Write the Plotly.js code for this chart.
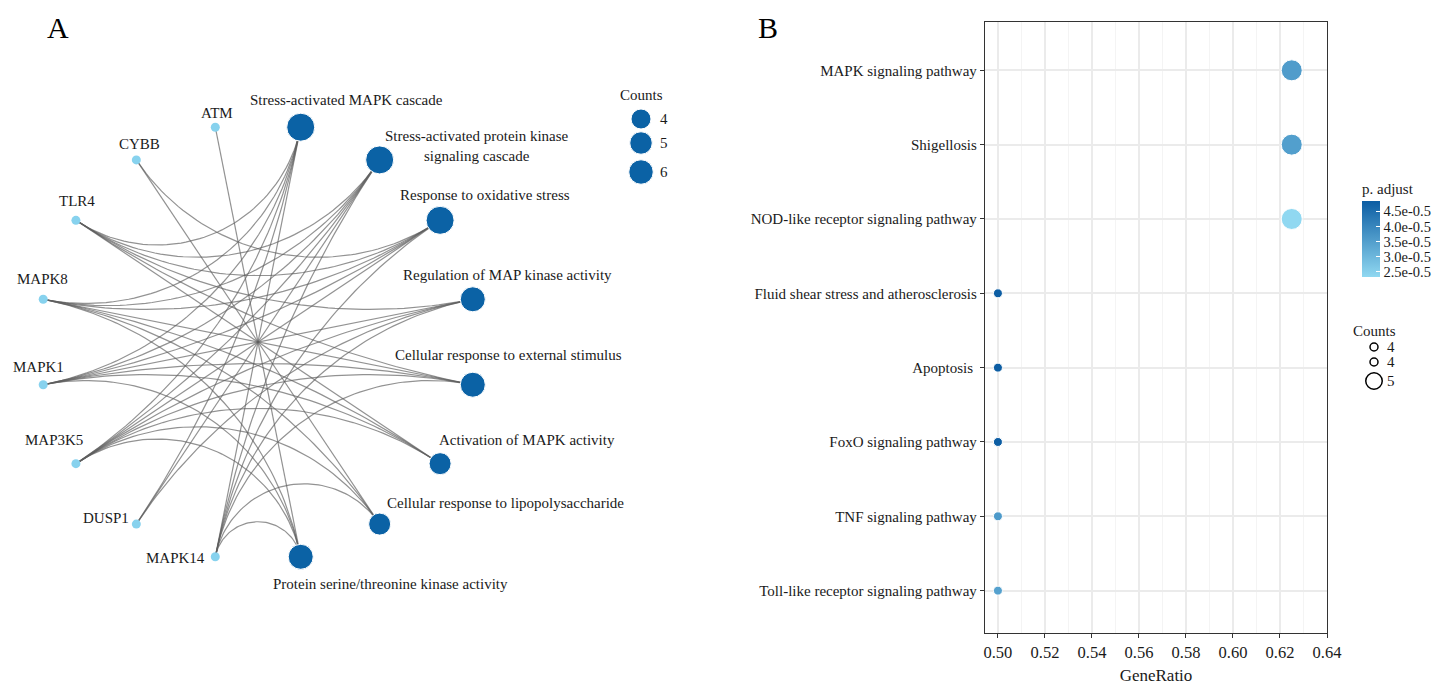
<!DOCTYPE html>
<html><head><meta charset="utf-8">
<script src="https://cdn.plot.ly/plotly-3.0.1.min.js"></script>
<style>html,body{margin:0;padding:0;background:#fff}#chart{width:1441px;height:685px}</style>
</head><body><div id="chart"></div>
<script>
// ================= DATA =================
// Panel A : gene–term network
const genes = ['ATM','CYBB','TLR4','MAPK8','MAPK1','MAP3K5','DUSP1','MAPK14'];
const terms = ['Stress-activated MAPK cascade',
  'Stress-activated protein kinase<br>signaling cascade',
  'Response to oxidative stress',
  'Regulation of MAP kinase activity',
  'Cellular response to external stimulus',
  'Activation of MAPK activity',
  'Cellular response to lipopolysaccharide',
  'Protein serine/threonine kinase activity'];
const termGenes = [
  ['TLR4','MAPK8','MAPK1','MAP3K5','DUSP1','MAPK14'],
  ['TLR4','MAPK8','MAPK1','MAP3K5','DUSP1','MAPK14'],
  ['CYBB','TLR4','MAPK8','MAPK1','MAP3K5','MAPK14'],
  ['TLR4','MAPK1','MAP3K5','DUSP1','MAPK14'],
  ['TLR4','MAPK8','MAPK1','MAP3K5','MAPK14'],
  ['TLR4','MAPK8','MAPK1','MAP3K5'],
  ['CYBB','MAPK8','MAP3K5','MAPK14'],
  ['ATM','MAPK8','MAPK1','MAP3K5','MAPK14']];
const countLegendA = [4,5,6];

// Panel B : KEGG dot plot
const pathways = ['MAPK signaling pathway','Shigellosis','NOD-like receptor signaling pathway',
  'Fluid shear stress and atherosclerosis','Apoptosis ','FoxO signaling pathway',
  'TNF signaling pathway','Toll-like receptor signaling pathway'];
const geneRatio = [0.625,0.625,0.625,0.5,0.5,0.5,0.5,0.5];
const pathCounts = [5,5,5,4,4,4,4,4];
const pAdjust = [3.55e-5,3.50e-5,2.33e-5,4.84e-5,4.84e-5,4.84e-5,3.60e-5,3.45e-5];
const pTickVals = [2.5e-5,3.0e-5,3.5e-5,4.0e-5,4.5e-5];
const pTickText = ['2.5e-0.5','3.0e-0.5','3.5e-0.5','4.0e-0.5','4.5e-0.5'];
const xTickVals = [0.50,0.52,0.54,0.56,0.58,0.60,0.62,0.64];
const xMinorVals = [0.51,0.53,0.55,0.57,0.59,0.61,0.63];
const countLegendB = ['4','4','5'];

// ================= STYLE / LAYOUT =================
const W = 1441, H = 685;
const FONT = '"Liberation Serif", "Times New Roman", serif';
const TXT = '#1a1a1a';
const termColor = '#0B62A5', geneColor = '#87D2EE';
const R = 219, CX = 258, CY = 342;         // network circle in pixels
const netRight = 700;
// label offsets in px (dx right, dy down)
const termLabelOff = [[46,-27],[97,-14],[45,-25],[35,-24],[36,-30],[87,-24],[126,-21],[90,27]];
const geneLabelOff = [[2,-14],[3,-16],[1,-19],[-1,-20],[-5,-18],[-22,-24],[-30,-6],[-40,1]];

const deg = Math.PI/180;
const termAngle = terms.map((t,k)=> (78.75 - 22.5*k)*deg);
const geneAngle = genes.map((g,j)=> (101.25 + 22.5*j)*deg);
const termSize = c => 22 + (c-4)*3;

function arcPoints(a, b, n){
  const ax=Math.cos(a), ay=Math.sin(a), bx=Math.cos(b), by=Math.sin(b);
  let d = Math.abs(a-b) % (2*Math.PI); if (d > Math.PI) d = 2*Math.PI - d;
  const xs=[], ys=[];
  if (Math.abs(Math.PI-d) < 1e-3){
    for(let i=0;i<=n;i++){ xs.push(ax+(bx-ax)*i/n); ys.push(ay+(by-ay)*i/n); }
    return [xs,ys];
  }
  const mx=(ax+bx)/2, my=(ay+by)/2, ml=Math.hypot(mx,my);
  const ux=mx/ml, uy=my/ml, cd=1/Math.cos(d/2), r=Math.tan(d/2);
  const cx=ux*cd, cy=uy*cd;
  const t0=Math.atan2(ay-cy,ax-cx), t1=Math.atan2(by-cy,bx-cx);
  let dt=t1-t0; while(dt>Math.PI) dt-=2*Math.PI; while(dt<-Math.PI) dt+=2*Math.PI;
  for(let i=0;i<=n;i++){ const t=t0+dt*i/n; xs.push(cx+r*Math.cos(t)); ys.push(cy+r*Math.sin(t)); }
  return [xs,ys];
}

const traces = [];
// edges
const ex=[], ey=[];
termGenes.forEach((gl,k)=>{
  gl.forEach(g=>{
    const j = genes.indexOf(g);
    const [xs,ys] = arcPoints(geneAngle[j], termAngle[k], 60);
    ex.push(...xs, null); ey.push(...ys, null);
  });
});
traces.push({type:'scatter',mode:'lines',x:ex,y:ey,xaxis:'x',yaxis:'y',
  line:{color:'rgba(95,95,95,0.68)',width:1.2},hoverinfo:'skip',showlegend:false});
// gene nodes
traces.push({type:'scatter',mode:'markers',x:geneAngle.map(Math.cos),y:geneAngle.map(Math.sin),
  xaxis:'x',yaxis:'y',marker:{size:9,color:geneColor,opacity:1},text:genes,hoverinfo:'text',showlegend:false});
// term nodes
traces.push({type:'scatter',mode:'markers',x:termAngle.map(Math.cos),y:termAngle.map(Math.sin),
  xaxis:'x',yaxis:'y',marker:{size:termGenes.map(g=>termSize(g.length)),color:termColor,opacity:1},
  text:terms,hoverinfo:'text',showlegend:false});

// Legend A (overlay pixel axes x3/y3)
const legA = {x:641, y:[119,143,172], sizes:[20,22.5,24.5], labelX:664, titleY:95};
traces.push({type:'scatter',mode:'markers',x:countLegendA.map(()=>legA.x),y:legA.y,xaxis:'x3',yaxis:'y3',
  marker:{size:legA.sizes,color:termColor,opacity:1},hoverinfo:'skip',showlegend:false});
// Legend B
const legB = {x:1374, y:[347,362,381], sizes:[8,8,16.5], labelX:1391, titleY:331};
traces.push({type:'scatter',mode:'markers',x:countLegendB.map(()=>legB.x),y:legB.y,xaxis:'x3',yaxis:'y3',
  marker:{size:legB.sizes,color:'rgba(0,0,0,0)',opacity:1,line:{color:'#000',width:1.5}},hoverinfo:'skip',showlegend:false});

// Panel B dots
const colorscale = [[0,'#90D8F1'],[1,'#0C5DA3']];
traces.push({type:'scatter',mode:'markers',x:geneRatio,y:pathways.map((p,i)=>i),xaxis:'x2',yaxis:'y2',
  marker:{size:pathCounts.map(c=> c>=5?21:9),opacity:1,color:pAdjust,colorscale:colorscale,cmin:2.33e-5,cmax:4.84e-5,
    showscale:true,
    colorbar:{x:1362/W,xanchor:'left',y:1-277/H,yanchor:'bottom',lenmode:'pixels',len:97,thickness:18,
      xpad:0,ypad:0,outlinewidth:0,tickmode:'array',tickvals:pTickVals,ticktext:pTickText,
      ticks:'inside',tickcolor:'#fff',ticklen:4,tickfont:{family:FONT,size:14.5,color:TXT},
      title:{text:'p. adjust',side:'top',font:{family:FONT,size:15,color:TXT}}}},
  text:pathways,hoverinfo:'text+x',showlegend:false});

const annotations = [];
const pA = {family:FONT,size:15,color:TXT};
terms.forEach((t,k)=>{
  annotations.push({x:Math.cos(termAngle[k]),y:Math.sin(termAngle[k]),xref:'x',yref:'y',text:t,showarrow:false,
    xshift:termLabelOff[k][0],yshift:-termLabelOff[k][1],xanchor:'center',yanchor:'middle',align:'center',font:pA});
});
genes.forEach((g,j)=>{
  annotations.push({x:Math.cos(geneAngle[j]),y:Math.sin(geneAngle[j]),xref:'x',yref:'y',text:g,showarrow:false,
    xshift:geneLabelOff[j][0],yshift:-geneLabelOff[j][1],xanchor:'center',yanchor:'middle',font:pA});
});
annotations.push({x:legA.x,y:legA.titleY,xref:'x3',yref:'y3',text:'Counts',showarrow:false,xanchor:'center',yanchor:'middle',font:pA});
countLegendA.forEach((c,i)=>annotations.push({x:legA.labelX,y:legA.y[i],xref:'x3',yref:'y3',text:String(c),showarrow:false,xanchor:'center',yanchor:'middle',font:pA}));
annotations.push({x:legB.x,y:legB.titleY,xref:'x3',yref:'y3',text:'Counts',showarrow:false,xanchor:'center',yanchor:'middle',font:pA});
countLegendB.forEach((c,i)=>annotations.push({x:legB.labelX,y:legB.y[i],xref:'x3',yref:'y3',text:c,showarrow:false,xanchor:'center',yanchor:'middle',font:pA}));
annotations.push({x:58/W,y:1-27/H,xref:'paper',yref:'paper',text:'A',showarrow:false,xanchor:'center',yanchor:'middle',font:{family:FONT,size:30,color:'#000'}});
annotations.push({x:768/W,y:1-27/H,xref:'paper',yref:'paper',text:'B',showarrow:false,xanchor:'center',yanchor:'middle',font:{family:FONT,size:30,color:'#000'}});

const hidden = {visible:false,showgrid:false,zeroline:false,fixedrange:true};
const layout = {
  width:W,height:H,margin:{l:0,r:0,t:0,b:0,autoexpand:false},
  paper_bgcolor:'#fff',plot_bgcolor:'rgba(0,0,0,0)',showlegend:false,hovermode:'closest',
  font:{family:FONT,color:TXT},
  xaxis:Object.assign({domain:[0,netRight/W],range:[-CX/R,(netRight-CX)/R]},hidden),
  yaxis:Object.assign({domain:[0,1],range:[-(H-CY)/R,CY/R]},hidden),
  xaxis3:Object.assign({domain:[0,1],range:[0,W],anchor:'y3'},hidden),
  yaxis3:Object.assign({domain:[0,1],range:[H,0],anchor:'x3'},hidden),
  xaxis2:{domain:[985/W,1327/W],anchor:'y2',range:[0.4945,0.640],
    tickmode:'array',tickvals:xTickVals,ticktext:xTickVals.map(v=>v.toFixed(2)),
    showgrid:true,gridcolor:'#ebebeb',gridwidth:1.6,zeroline:false,
    minor:{tickmode:'array',tickvals:xMinorVals,showgrid:true,gridcolor:'#f4f4f4',gridwidth:1,ticks:''},
    showline:true,mirror:true,linecolor:'#333',linewidth:1.3,
    ticks:'outside',ticklen:4,tickcolor:'#333',tickfont:{family:FONT,size:16.5,color:TXT},
    title:{text:'GeneRatio',font:{family:FONT,size:17,color:TXT},standoff:9}},
  yaxis2:{domain:[1-633/H,1-22/H],anchor:'x2',range:[7.57,-0.65],
    tickmode:'array',tickvals:pathways.map((p,i)=>i),ticktext:pathways,
    showgrid:true,gridcolor:'#ebebeb',gridwidth:1.6,zeroline:false,
    showline:true,mirror:true,linecolor:'#333',linewidth:1.3,
    ticks:'outside',ticklen:4,tickcolor:'#333',tickfont:{family:FONT,size:15,color:TXT}},
  annotations:annotations
};
Plotly.newPlot('chart',traces,layout,{displayModeBar:false});
</script></body></html>
